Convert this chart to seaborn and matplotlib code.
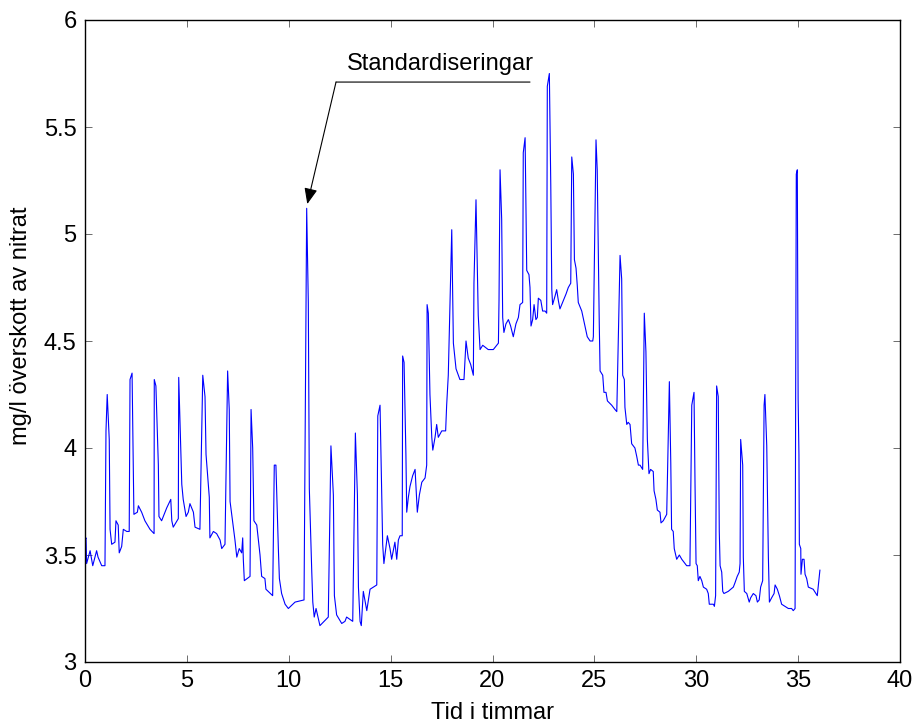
import matplotlib
matplotlib.use("Agg")
import matplotlib.pyplot as plt
import seaborn as sns
import pandas as pd

# ---- data ----
tid = [
    0.00, 0.05, 0.08, 0.25, 0.38, 0.57, 0.64, 0.82, 0.98, 1.03, 1.09, 1.19, 1.23, 1.31, 1.47, 1.52,
    1.63, 1.68, 1.80, 1.88, 2.05, 2.17, 2.21, 2.31, 2.40, 2.57, 2.62, 2.78, 2.94, 3.19, 3.39, 3.40,
    3.48, 3.60, 3.63, 3.76, 3.93, 4.01, 4.21, 4.26, 4.33, 4.58, 4.60, 4.75, 4.82, 4.96, 5.07, 5.15,
    5.32, 5.40, 5.64, 5.78, 5.89, 5.94, 6.10, 6.13, 6.30, 6.46, 6.63, 6.71, 6.87, 7.00, 7.08, 7.12,
    7.28, 7.36, 7.45, 7.57, 7.69, 7.74, 7.77, 7.82, 8.10, 8.15, 8.23, 8.29, 8.43, 8.59, 8.67, 8.83,
    8.88, 9.21, 9.29, 9.37, 9.49, 9.54, 9.65, 9.82, 9.98, 10.31, 10.75, 10.88, 10.96, 11.01, 11.13,
    11.18, 11.25, 11.34, 11.53, 11.94, 12.07, 12.19, 12.24, 12.35, 12.60, 12.76, 12.84, 13.14, 13.27,
    13.37, 13.42, 13.50, 13.56, 13.66, 13.83, 13.99, 14.32, 14.37, 14.48, 14.56, 14.61, 14.67, 14.84,
    14.97, 15.05, 15.21, 15.30, 15.38, 15.46, 15.57, 15.59, 15.66, 15.75, 15.79, 15.87, 15.95, 16.08,
    16.20, 16.31, 16.41, 16.53, 16.69, 16.77, 16.79, 16.85, 16.93, 17.02, 17.07, 17.18, 17.26, 17.34,
    17.51, 17.70, 17.75, 17.83, 18.00, 18.08, 18.21, 18.40, 18.60, 18.70, 18.81, 18.93, 19.06, 19.09,
    19.19, 19.30, 19.39, 19.52, 19.79, 20.04, 20.29, 20.32, 20.37, 20.45, 20.50, 20.56, 20.66, 20.78,
    20.89, 21.02, 21.15, 21.27, 21.35, 21.48, 21.51, 21.60, 21.68, 21.79, 21.84, 21.89, 21.97, 22.04,
    22.13, 22.20, 22.25, 22.37, 22.46, 22.58, 22.66, 22.69, 22.79, 22.86, 22.91, 22.95, 23.07, 23.15,
    23.23, 23.31, 23.48, 23.61, 23.72, 23.84, 23.89, 23.97, 24.02, 24.10, 24.16, 24.21, 24.38, 24.54,
    24.65, 24.79, 24.92, 24.95, 25.08, 25.14, 25.24, 25.28, 25.41, 25.47, 25.57, 25.64, 25.85, 26.01,
    26.10, 26.26, 26.34, 26.39, 26.47, 26.50, 26.59, 26.66, 26.75, 26.83, 26.99, 27.08, 27.16, 27.24,
    27.37, 27.45, 27.53, 27.60, 27.68, 27.76, 27.89, 27.93, 28.02, 28.09, 28.22, 28.27, 28.38, 28.55,
    28.68, 28.75, 28.79, 28.87, 28.92, 29.04, 29.17, 29.29, 29.45, 29.53, 29.69, 29.78, 29.89, 29.94,
    29.99, 30.05, 30.10, 30.18, 30.27, 30.35, 30.51, 30.59, 30.64, 30.84, 30.89, 30.95, 31.00, 31.08,
    31.13, 31.17, 31.25, 31.30, 31.36, 31.57, 31.82, 31.90, 32.01, 32.11, 32.15, 32.18, 32.28, 32.31,
    32.36, 32.48, 32.60, 32.67, 32.80, 32.93, 33.00, 33.09, 33.16, 33.26, 33.33, 33.37, 33.46, 33.54,
    33.59, 33.70, 33.82, 33.87, 33.98, 34.08, 34.19, 34.36, 34.52, 34.68, 34.76, 34.85, 34.91, 34.96,
    35.00, 35.04, 35.06, 35.13, 35.14, 35.21, 35.29, 35.34, 35.42, 35.50, 35.74, 35.94, 36.07,
]
nitrat = [
    3.57, 3.58, 3.46, 3.52, 3.45, 3.52, 3.49, 3.45, 3.45, 4.08, 4.25, 4.04, 3.62, 3.55, 3.56, 3.66,
    3.64, 3.51, 3.54, 3.62, 3.61, 3.61, 4.32, 4.35, 3.69, 3.70, 3.73, 3.70, 3.66, 3.62, 3.60, 4.32,
    4.29, 3.92, 3.68, 3.66, 3.70, 3.72, 3.76, 3.66, 3.63, 3.67, 4.33, 3.83, 3.76, 3.68, 3.70, 3.74,
    3.70, 3.63, 3.62, 4.34, 4.24, 3.97, 3.77, 3.58, 3.61, 3.60, 3.57, 3.53, 3.55, 4.36, 4.18, 3.75,
    3.63, 3.57, 3.49, 3.53, 3.51, 3.58, 3.48, 3.38, 3.40, 4.18, 4.00, 3.66, 3.64, 3.50, 3.40, 3.39,
    3.34, 3.31, 3.92, 3.92, 3.53, 3.39, 3.32, 3.27, 3.25, 3.28, 3.29, 5.12, 4.68, 3.81, 3.42,
    3.28, 3.21, 3.25, 3.17, 3.21, 4.01, 3.78, 3.31, 3.22, 3.18, 3.19, 3.21, 3.19, 4.07,
    3.78, 3.35, 3.19, 3.17, 3.33, 3.24, 3.34, 3.36, 4.15, 4.20, 3.80, 3.55, 3.46, 3.59,
    3.53, 3.48, 3.56, 3.48, 3.57, 3.59, 3.59, 4.43, 4.40, 3.97, 3.70, 3.77, 3.82, 3.87,
    3.90, 3.70, 3.78, 3.84, 3.86, 3.92, 4.67, 4.63, 4.25, 4.05, 3.99, 4.05, 4.11, 4.05,
    4.08, 4.08, 4.20, 4.34, 5.02, 4.49, 4.37, 4.32, 4.32, 4.50, 4.42, 4.39, 4.34, 4.77,
    5.16, 4.62, 4.46, 4.48, 4.46, 4.46, 4.49, 4.69, 5.30, 5.07, 4.61, 4.54, 4.58, 4.60,
    4.57, 4.52, 4.58, 4.61, 4.67, 4.68, 5.38, 5.45, 4.83, 4.81, 4.75, 4.57, 4.60, 4.67,
    4.60, 4.61, 4.70, 4.69, 4.64, 4.64, 4.63, 5.69, 5.75, 5.23, 4.74, 4.67, 4.71, 4.74,
    4.69, 4.65, 4.69, 4.72, 4.75, 4.77, 5.36, 5.28, 4.88, 4.84, 4.76, 4.68, 4.64, 4.57,
    4.52, 4.50, 4.50, 4.52, 5.44, 5.30, 4.58, 4.36, 4.34, 4.26, 4.26, 4.22, 4.20, 4.18,
    4.17, 4.90, 4.79, 4.34, 4.32, 4.19, 4.11, 4.12, 4.11, 4.02, 4.00, 3.96, 3.92, 3.92,
    3.90, 4.63, 4.45, 4.04, 3.88, 3.90, 3.89, 3.80, 3.76, 3.71, 3.70, 3.65, 3.66, 3.69,
    4.31, 3.93, 3.62, 3.61, 3.53, 3.48, 3.50, 3.48, 3.46, 3.45, 3.45, 4.20, 4.26, 3.83,
    3.46, 3.45, 3.38, 3.40, 3.38, 3.35, 3.34, 3.32, 3.27, 3.27, 3.26, 3.31, 4.29, 4.24,
    3.61, 3.45, 3.42, 3.33, 3.32, 3.33, 3.35, 3.37, 3.40, 3.42, 3.46, 4.04, 3.92, 3.49,
    3.33, 3.32, 3.28, 3.30, 3.32, 3.31, 3.28, 3.29, 3.35, 3.38, 4.20, 4.25, 4.01, 3.49,
    3.28, 3.30, 3.32, 3.36, 3.34, 3.31, 3.27, 3.26, 3.25, 3.25, 3.24, 3.25, 5.28, 5.30,
    4.23, 3.97, 3.55, 3.53, 3.41, 3.48, 3.48, 3.41, 3.39, 3.35, 3.34, 3.31, 3.43,
]
x_ticks = [0, 5, 10, 15, 20, 25, 30, 35, 40]
x_tick_labels = ["0", "5", "10", "15", "20", "25", "30", "35", "40"]
y_ticks = [3, 3.5, 4, 4.5, 5, 5.5, 6]
y_tick_labels = ["3", "3.5", "4", "4.5", "5", "5.5", "6"]
annot_text = "Standardiseringar"
annot_target = (10.91, 5.14)
annot_tail = (12.32, 5.71)
annot_line_end = (21.84, 5.71)

df = pd.DataFrame({"Tid": tid, "Nitrat": nitrat})

sns.set_style("ticks")
plt.rcParams["font.family"] = ["Liberation Sans", "DejaVu Sans"]

FS = 17

fig = plt.figure(figsize=(9.17, 7.27), dpi=100)
ax = fig.add_axes([85 / 917, 1 - 662 / 727, (900 - 85) / 917, (662 - 20) / 727])

sns.lineplot(data=df, x="Tid", y="Nitrat", ax=ax, color="#0000ff", lw=0.8,
             sort=False, estimator=None)

ax.set_xlim(0, 40)
ax.set_ylim(3, 6)
ax.set_xticks(x_ticks)
ax.set_xticklabels(x_tick_labels)
ax.set_yticks(y_ticks)
ax.set_yticklabels(y_tick_labels)
for s in ax.spines.values():
    s.set_visible(True)
    s.set_linewidth(1.0)
    s.set_color("black")
ax.tick_params(direction="in", length=5, width=0.6, color="#555555",
               top=True, right=True, labelsize=FS, labelcolor="black")
ax.tick_params(axis="x", pad=6)
ax.tick_params(axis="y", pad=6)

ax.set_xlabel("Tid i timmar", fontsize=FS, labelpad=7, color="black")
ax.set_ylabel("mg/l överskott av nitrat", fontsize=FS, color="black")
ax.yaxis.set_label_coords(-0.065, 0.523)

# annotation: arrow + underline + text
ax.annotate("", xy=annot_target, xytext=annot_tail,
            arrowprops=dict(arrowstyle="-|>,head_length=0.6,head_width=0.25",
                            color="black", lw=0.8, shrinkA=0, shrinkB=0,
                            mutation_scale=16))
ax.annotate("", xy=annot_line_end, xytext=annot_tail,
            arrowprops=dict(arrowstyle="-", color="black", lw=0.8,
                            shrinkA=0, shrinkB=0))
ax.text((annot_tail[0] + annot_line_end[0]) / 2 + 0.35, annot_tail[1] + 0.035, annot_text,
        fontsize=FS, ha="center", va="bottom", color="black")

fig.savefig("out.png", dpi=100)
